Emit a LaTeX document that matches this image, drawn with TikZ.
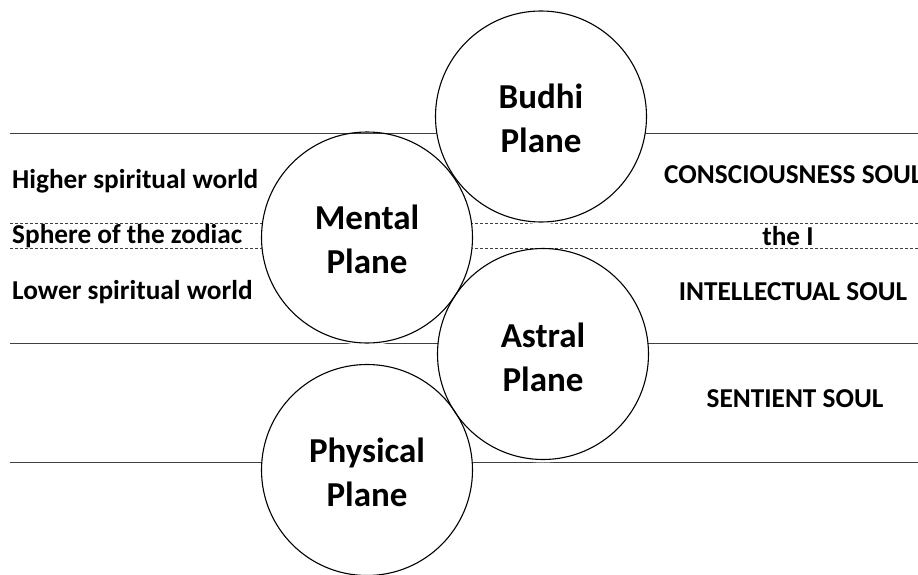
\documentclass[tikz,border=0pt]{standalone}
\usepackage{fontspec}
\setmainfont{Carlito}
\begin{document}
\begin{tikzpicture}[x=1pt,y=-1pt,
  sideline/.style={draw=black!75, line width=0.9pt},
  dashline/.style={sideline, dashed, dash pattern=on 3pt off 2pt},
  planet/.style={circle, fill=white, inner sep=0pt, minimum size=211pt,
    align=center, font=\bfseries\fontsize{35}{44}\selectfont},
  ring/.style={draw=black, line width=1.1pt},
  world/.style={anchor=west, inner sep=0pt, font=\bfseries\fontsize{27.3}{30}\selectfont},
  soul/.style={inner sep=0pt, font=\bfseries\fontsize{27.3}{30}\selectfont}]
\useasboundingbox (0,0) rectangle (918,575);

% horizontal boundaries between the worlds
\coordinate (a1) at (10,133);  \coordinate (a2) at (918,133);
\coordinate (b1) at (10,223);  \coordinate (b2) at (918,223);
\coordinate (c1) at (10,248);  \coordinate (c2) at (918,248);
\coordinate (d1) at (10,343);  \coordinate (d2) at (918,343);
\coordinate (e1) at (10,462);  \coordinate (e2) at (918,462);
\draw[sideline] (a1) -- (a2);
\draw[dashline] (b1) -- (b2);
\draw[dashline] (c1) -- (c2);
\draw[sideline] (d1) -- (d2);
\draw[sideline] (e1) -- (e2);

% the four planes
\node[planet] (budhi)    at (541,118.5) {Budhi\\Plane};
\node[planet] (mental)   at (367,239.5) {Mental\\Plane};
\node[planet] (astral)   at (543,357)   {Astral\\Plane};
\node[planet] (physical) at (367,472)   {Physical\\Plane};
\draw[ring] (budhi.center)    ++(0,-2) circle[radius=105.5];
\draw[ring] (mental.center)   ++(0,-2) circle[radius=105.5];
\draw[ring] (astral.center)   ++(0,-3) circle[radius=105.5];
\draw[ring] (physical.center) ++(0,-2) circle[radius=105.5];

% worlds on the left
\node[world] (higher) at (12,181) {Higher spiritual world};
\node[world] (zodiac) at (12,236) {Sphere of the zodiac};
\node[world] (lower)  at (12,292) {Lower spiritual world};

% members of the soul on the right
\node[soul, anchor=west] (cons) at (664,175) {CONSCIOUSNESS SOUL};
\node[soul] (ego)   at (788,236) {the I};
\node[soul] (intel) at (793,292) {INTELLECTUAL SOUL};
\node[soul] (sent)  at (795,399) {SENTIENT SOUL};
\end{tikzpicture}
\end{document}
